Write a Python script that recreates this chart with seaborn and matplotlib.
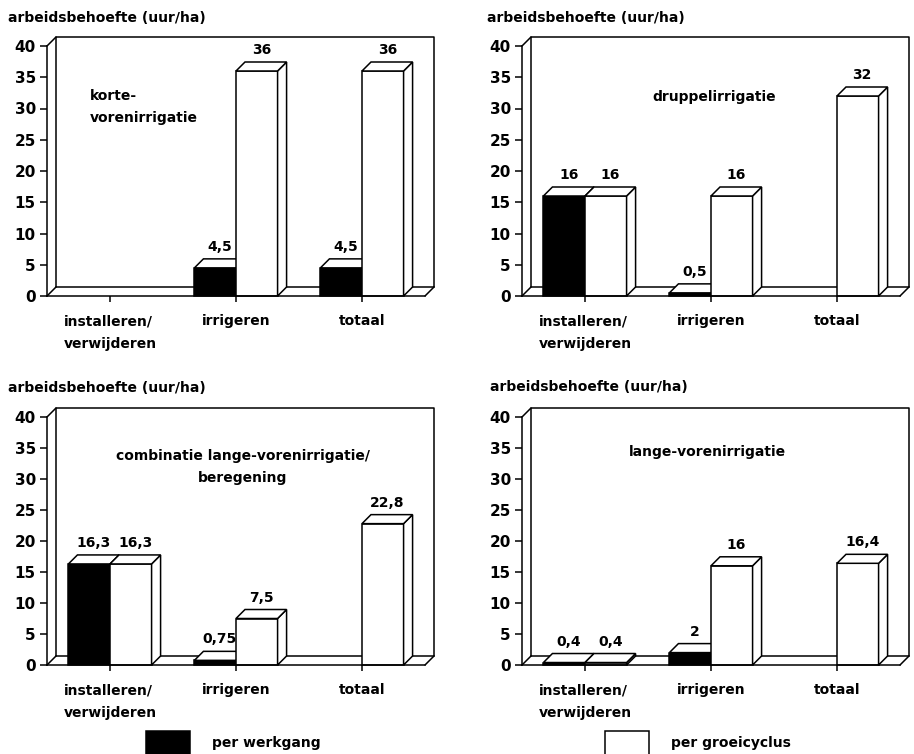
import numpy as np
import pandas as pd
import matplotlib
matplotlib.use("Agg")
import matplotlib.pyplot as plt
import seaborn as sns
from matplotlib.patches import Polygon, Patch
from matplotlib.lines import Line2D

# ---------------- data ----------------
categories = ["installeren/\nverwijderen", "irrigeren", "totaal"]
series = ["per werkgang", "per groeicyclus"]
y_ticks = [0, 5, 10, 15, 20, 25, 30, 35, 40]
y_label = "arbeidsbehoefte (uur/ha)"

titles = ["korte-\nvorenirrigatie", "druppelirrigatie",
          "combinatie lange-vorenirrigatie/\nberegening", "lange-vorenirrigatie"]

korte_werkgang = [np.nan, 4.5, 4.5]
korte_groei = [np.nan, 36, 36]
druppel_werkgang = [16, 0.5, np.nan]
druppel_groei = [16, 16, 32]
combi_werkgang = [16.3, 0.75, np.nan]
combi_groei = [16.3, 7.5, 22.8]
lange_werkgang = [0.4, 2, np.nan]
lange_groei = [0.4, 16, 16.4]

panels = [
    (korte_werkgang, korte_groei),
    (druppel_werkgang, druppel_groei),
    (combi_werkgang, combi_groei),
    (lange_werkgang, lange_groei),
]

# ---------------- style ----------------
sns.set_theme(style="white")
plt.rcParams["font.family"] = ["DejaVu Sans"]
plt.rcParams["font.weight"] = "bold"
for key in ["text.color", "axes.labelcolor", "xtick.color", "ytick.color", "axes.edgecolor"]:
    plt.rcParams[key] = "black"
FS = 10

W, H = 914, 754
fig = plt.figure(figsize=(W / 100, H / 100), dpi=100)
fig.patch.set_facecolor("white")

# axes rectangles in pixels (left, top-of-40, width, height)
ax_px = [(47, 46, 378, 250), (522, 46, 378, 250),
         (47, 417, 378, 248), (522, 417, 378, 248)]
DEPTH = 9  # pixels of pseudo-3D depth
LW = 1.1


def fmt(v):
    return f"{v:g}".replace(".", ",")


axes = []
for (l, t, w, h) in ax_px:
    ax = fig.add_axes([l / W, 1 - (t + h) / H, w / W, h / H])
    axes.append(ax)

for idx, (ax, (werk, groei)) in enumerate(zip(axes, panels)):
    df = pd.DataFrame({
        "categorie": categories * 2,
        "reeks": [series[0]] * 3 + [series[1]] * 3,
        "waarde": list(werk) + list(groei),
    }).dropna()
    sns.barplot(data=df, x="categorie", y="waarde", hue="reeks",
                order=categories, hue_order=series,
                palette=["black", "white"], saturation=1,
                edgecolor="black", linewidth=LW, width=0.66,
                errorbar=None, legend=False, ax=ax)
    ax.set_xlim(-0.5, 2.5)
    ax.set_ylim(0, 40)
    ax.set_yticks(y_ticks)
    ax.set_xlabel("")
    ax.set_ylabel("")
    ax.set_facecolor("none")

    l, t, w, h = ax_px[idx]
    ddx = DEPTH / (w / 3.0)
    ddy = DEPTH / (h / 40.0)
    x0, x1 = ax.get_xlim()

    # back wall and floor (pseudo-3D frame)
    wall = [
        ([x0 + ddx, x0 + ddx, x1 + ddx, x1 + ddx], [ddy, 40 + ddy, 40 + ddy, ddy]),
        ([x0, x0 + ddx], [40, 40 + ddy]),
        ([x0, x0 + ddx], [0, ddy]),
        ([x0 + ddx, x1 + ddx], [ddy, ddy]),
        ([x1, x1 + ddx], [0, ddy]),
    ]
    for xs, ys in wall:
        ax.add_line(Line2D(xs, ys, color="black", lw=LW, zorder=1, clip_on=False))

    # bars with 3D top and side
    bars = [p for p in ax.patches if np.isfinite(p.get_height())]
    bars.sort(key=lambda p: p.get_x())
    for i, p in enumerate(bars):
        z = 3 + i
        p.set_zorder(z)
        p.set_clip_on(False)
        x, bw, bh = p.get_x(), p.get_width(), p.get_height()
        top = Polygon([(x, bh), (x + bw, bh), (x + bw + ddx, bh + ddy), (x + ddx, bh + ddy)],
                      closed=True, facecolor="white", edgecolor="black", lw=LW,
                      zorder=z, clip_on=False)
        side = Polygon([(x + bw, 0), (x + bw + ddx, ddy), (x + bw + ddx, bh + ddy), (x + bw, bh)],
                       closed=True, facecolor="white", edgecolor="black", lw=LW,
                       zorder=z, clip_on=False)
        ax.add_patch(side)
        ax.add_patch(top)
        ax.text(x + bw / 2 + ddx / 2, bh + ddy + 0.8, fmt(bh), ha="center", va="bottom",
                fontsize=FS, zorder=20)

    # spines / ticks
    for s in ["top", "right"]:
        ax.spines[s].set_visible(False)
    for s in ["left", "bottom"]:
        ax.spines[s].set_color("black")
        ax.spines[s].set_linewidth(LW)
        ax.spines[s].set_zorder(30)
    ax.tick_params(axis="y", direction="out", length=5, width=LW, color="black",
                   labelsize=FS + 1, pad=3, left=True, labelcolor="black")
    ax.tick_params(axis="x", direction="out", length=4, width=LW, color="black",
                   labelsize=FS, pad=9, bottom=True, labelcolor="black")
    for lbl in ax.get_xticklabels():
        lbl.set_linespacing(1.8)
        lbl.set_multialignment("left")

# y-axis titles above each panel
for (px, py) in [(8, 18), (487, 18), (8, 388), (490, 387)]:
    fig.text(px / W, 1 - py / H, y_label, ha="left", va="center", fontsize=FS)

# panel titles
fig.text(90 / W, 1 - 107 / H, titles[0], ha="left", va="center", fontsize=FS, linespacing=1.8)
fig.text(714 / W, 1 - 97 / H, titles[1], ha="center", va="center", fontsize=FS)
fig.text(243 / W, 1 - 467 / H, titles[2], ha="center", va="center", fontsize=FS,
         linespacing=1.8, multialignment="center")
fig.text(707 / W, 1 - 452 / H, titles[3], ha="center", va="center", fontsize=FS)

# legend
for lab, fc, xa in [(series[0], "black", 133), (series[1], "white", 592)]:
    fig.legend(handles=[Patch(facecolor=fc, edgecolor="black", lw=LW, label=lab)],
               loc="center left", bbox_to_anchor=(xa / W, 1 - 743 / H),
               frameon=False, fontsize=FS, handlelength=3.2, handleheight=2.2,
               handletextpad=1.6)

fig.savefig("out.png", dpi=100, facecolor="white")
